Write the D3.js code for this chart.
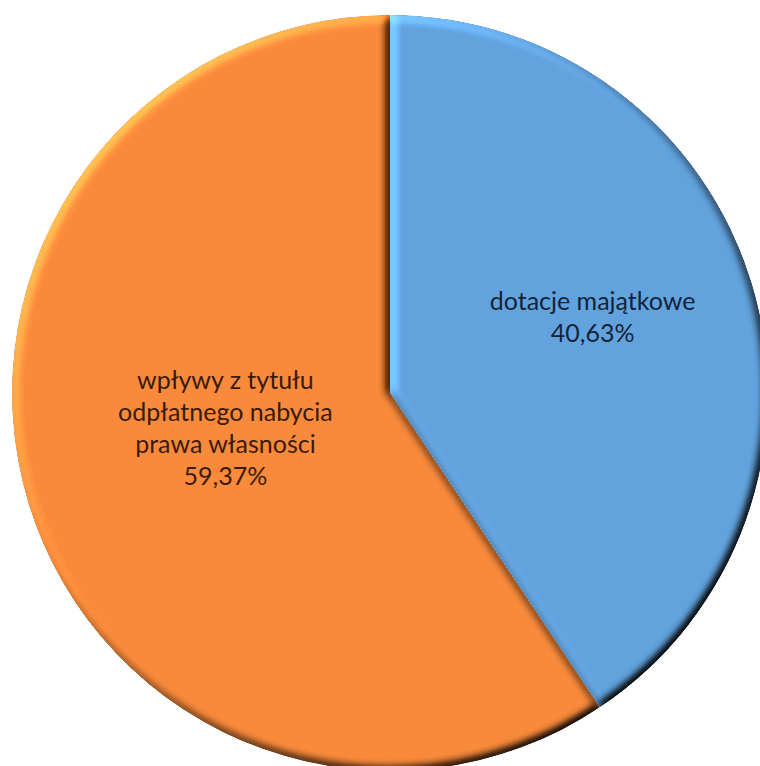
<!DOCTYPE html>
<html>
<head>
<meta charset="utf-8">
<script src="https://cdn.jsdelivr.net/npm/d3@7"></script>
<style>
  html, body { margin: 0; padding: 0; background: #fff; }
  svg { display: block; }
  .slice-label { font-family: Lato, "Open Sans", sans-serif; font-size: 25px; }
</style>
</head>
<body>
<div id="chart"></div>
<script>
// data
const categories = ["dotacje majątkowe", "wpływy z tytułu odpłatnego nabycia prawa własności"];
const labelLines = [
  ["dotacje majątkowe"],
  ["wpływy z tytułu", "odpłatnego nabycia", "prawa własności"]
];
const shares = [40.63, 59.37];
const sliceColors = ["#62a3de", "#f98a3b"];
const textColors = ["#13243a", "#3a1b08"];

const width = 760, height = 766;
const cx = 390, cy = 393, radius = 378;
const lineHeight = 32;
// label distance from centre, as fraction of radius
const labelRadius = [0.56, 0.455];

const plLocale = d3.formatLocale({ decimal: ",", thousands: " ", grouping: [3], currency: ["", " zł"] });
const fmt = plLocale.format(".2f");

const svg = d3.select("#chart").append("svg")
  .attr("width", width)
  .attr("height", height);

// bevel: blurred alpha lit from the top-left, multiplied back on the fill
const defs = svg.append("defs");
const f = defs.append("filter")
  .attr("id", "bevel")
  .attr("x", "-5%").attr("y", "-5%")
  .attr("width", "110%").attr("height", "110%")
  .attr("color-interpolation-filters", "sRGB");
f.append("feGaussianBlur").attr("in", "SourceAlpha").attr("stdDeviation", 5).attr("result", "blur");
f.append("feDiffuseLighting")
  .attr("in", "blur").attr("surfaceScale", 5).attr("diffuseConstant", 1)
  .attr("lighting-color", "#fff").attr("result", "light")
  .append("feDistantLight").attr("azimuth", 225).attr("elevation", 45);
f.append("feComposite")
  .attr("in", "SourceGraphic").attr("in2", "light")
  .attr("operator", "arithmetic")
  .attr("k1", 1.414).attr("k2", 0).attr("k3", 0).attr("k4", 0)
  .attr("result", "lit");
f.append("feComposite").attr("in", "lit").attr("in2", "SourceAlpha").attr("operator", "in");

const pie = d3.pie().sort(null).value(d => d);
const arcs = pie(shares);

const arc = d3.arc().innerRadius(0).outerRadius(radius);

const g = svg.append("g").attr("transform", `translate(${cx},${cy})`);

g.selectAll(".slice")
  .data(arcs)
  .enter()
  .append("path")
  .attr("class", "slice")
  .attr("d", arc)
  .attr("fill", (d, i) => sliceColors[i])
  .attr("filter", "url(#bevel)");

// labels
const labels = g.selectAll(".slice-label")
  .data(arcs)
  .enter()
  .append("text")
  .attr("class", "slice-label")
  .attr("text-anchor", "middle")
  .attr("fill", (d, i) => textColors[i])
  .attr("transform", (d, i) => {
    const r = radius * labelRadius[i];
    const a = (d.startAngle + d.endAngle) / 2;
    return `translate(${r * Math.sin(a)},${-r * Math.cos(a) - 15})`;
  });

labels.each(function (d, i) {
  const lines = labelLines[i].concat([fmt(shares[i]) + "%"]);
  const n = lines.length;
  const top = -((n - 1) * lineHeight) / 2 + 9;
  d3.select(this).selectAll("tspan")
    .data(lines)
    .enter()
    .append("tspan")
    .attr("x", 0)
    .attr("y", (t, j) => top + j * lineHeight)
    .text(t => t);
});
</script>
</body>
</html>
